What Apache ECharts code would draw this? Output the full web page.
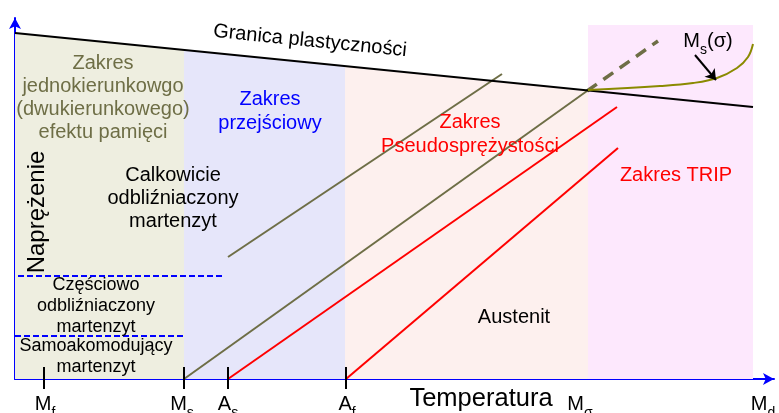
<!DOCTYPE html>
<html>
<head>
<meta charset="utf-8">
<script src="https://cdn.jsdelivr.net/npm/echarts@6/dist/echarts.min.js"></script>
<style>
html, body { margin: 0; padding: 0; background: #fff; }
#chart { width: 779px; height: 413px; }
</style>
</head>
<body>
<div id="chart"></div>
<script>
// schematic units: temperature 0..759, stress 0..361
const tickPos = [29, 169, 213, 331];
const labelPos = [30, 167, 213, 332, 565, 748];
const labelMain = ['M', 'M', 'A', 'A', 'M', 'M'];
const labelSub = ['f', 's', 's', 'f', 'σ', 'd'];

// zones: [x from, x to] and top edge [left, right]
const zoneX = [[0, 169], [169, 330], [330, 573], [573, 738]];
const zoneTop = [[346, 329], [329, 313], [313, 289], [354, 354]];

const yieldLine = [[0, 346], [738, 272]];
const detwinLine = [[213, 122], [487, 305]];
const msLine = [[169, 0], [572, 288]];
const msLineExt = [[572, 288], [643, 338]];
const asLine = [[213, 0], [602, 272]];
const afLine = [[331, 0], [603, 231]];
const msSigma = [[573, 289], [645, 293], [678, 296], [702, 301], [722, 311], [733, 322], [738, 335]];
const msSigmaArrow = [[680, 324], [701, 299]];
const partialLine = [[3, 103], [207, 103]];
const selfAccLine = [[0, 43], [169, 43]];

const notes = [
  [295, 338, 'Granica plastyczności', 'yield'],
  [22, 167, 'Naprężenie', 'yname'],
  [88, 281, 'Zakres\njednokierunkowgo\n(dwukierunkowego)\nefektu pamięci', 'olive'],
  [255, 268, 'Zakres\nprzejściowy', 'blue'],
  [455, 245, 'Zakres\nPseudosprężystości', 'red'],
  [661, 204, 'Zakres TRIP', 'red'],
  [158, 181, 'Calkowicie\nodbliźniaczony\nmartenzyt', 'black'],
  [81, 73, 'Częściowo\nodbliźniaczony\nmartenzyt', 'small'],
  [81, 22, 'Samoakomodujący\nmartenzyt', 'small'],
  [499, 62, 'Austenit', 'black'],
  [693, 338, '{m|M}{s|s}{m|(σ)}', 'msig'],
  [466, -20, 'Temperatura', 'axis']
];

const FONT = "'Liberation Sans', Arial, sans-serif";
const zoneColors = ['#eeeee0', '#e6e6fa', '#fdf0ee', '#fde8fd'];
const OLIVE = '#6e6e46';
const subRich = {
  m: { fontSize: 20, lineHeight: 20, verticalAlign: 'top', fontFamily: FONT, color: '#000' },
  s: { fontSize: 14, lineHeight: 14, verticalAlign: 'top', padding: [12, 0, 0, 0], fontFamily: FONT, color: '#000' }
};
const noteStyle = {
  yield: { color: '#000', size: 20, lh: 22, rotate: -5.7 },
  yname: { color: '#000', size: 24, lh: 26, rotate: 90 },
  olive: { color: OLIVE, size: 20, lh: 23 },
  blue: { color: '#0000ff', size: 20, lh: 24 },
  red: { color: '#ff0000', size: 20, lh: 24 },
  black: { color: '#000', size: 20, lh: 23 },
  small: { color: '#000', size: 18, lh: 21 },
  msig: { color: '#000', size: 20, lh: 20, rich: subRich },
  axis: { color: '#000', size: 25.5, lh: 28 }
};

function seg(data, color, width, type, z) {
  return {
    type: 'line', data: data, symbol: 'none', silent: true, z: z || 3,
    lineStyle: { color: color, width: width, type: type || 'solid' }
  };
}

const chart = echarts.init(document.getElementById('chart'));

chart.setOption({
  animation: false,
  grid: { left: 15, right: 5, top: 18, bottom: 34, containLabel: false, outerBoundsMode: 'none' },
  xAxis: {
    type: 'value', min: 0, max: 759,
    axisLine: { show: true, onZero: false, lineStyle: { color: '#0000ff', width: 2 }, symbol: ['none', 'arrow'], symbolSize: [9, 11] },
    axisTick: { show: false },
    splitLine: { show: false },
    axisLabel: {
      customValues: labelPos,
      margin: 15,
      formatter: function (v) {
        const i = labelPos.indexOf(v);
        return '{m|' + labelMain[i] + '}{s|' + labelSub[i] + '}';
      },
      rich: subRich
    }
  },
  yAxis: {
    type: 'value', min: 0, max: 361,
    axisLine: { show: true, onZero: false, lineStyle: { color: '#0000ff', width: 2 }, symbol: ['none', 'arrow'], symbolSize: [9, 11] },
    axisTick: { show: false },
    axisLabel: { show: false },
    splitLine: { show: false }
  },
  series: [
    {
      type: 'custom', coordinateSystem: 'cartesian2d', silent: true, z: 1,
      data: zoneX.map((r, i) => [r[0], zoneTop[i][0], r[1], zoneTop[i][1]]),
      encode: { x: [0, 2], y: [1, 3] },
      renderItem: function (params, api) {
        const x0 = api.value(0), y0 = api.value(1), x1 = api.value(2), y1 = api.value(3);
        return {
          type: 'polygon',
          shape: { points: [api.coord([x0, 0]), api.coord([x1, 0]), api.coord([x1, y1]), api.coord([x0, y0])] },
          style: { fill: zoneColors[params.dataIndex] }
        };
      }
    },
    seg(partialLine, '#0000ff', 2, [6, 3]),
    seg(selfAccLine, '#0000ff', 2, [6, 3]),
    seg(detwinLine, OLIVE, 2),
    seg(msLine, OLIVE, 2),
    seg(msLineExt, OLIVE, 3.5, [12, 8]),
    seg(asLine, '#ff0000', 2),
    seg(afLine, '#ff0000', 2),
    seg(yieldLine, '#000', 2, 'solid', 4),
    Object.assign(seg(msSigma, '#8a8a00', 2, 'solid', 5), { smooth: 0.4 }),
    {
      type: 'lines', coordinateSystem: 'cartesian2d', silent: true, z: 6,
      data: [{ coords: msSigmaArrow }],
      symbol: ['none', 'arrow'], symbolSize: 10,
      lineStyle: { color: '#000', width: 2, opacity: 1 }
    },
    {
      type: 'custom', coordinateSystem: 'cartesian2d', silent: true, z: 7, clip: false,
      data: tickPos.map(v => [v, 0]),
      encode: { x: 0, y: 1 },
      renderItem: function (params, api) {
        const a = api.coord([api.value(0), 12]);
        const b = api.coord([api.value(0), -10]);
        return { type: 'line', shape: { x1: a[0], y1: a[1], x2: b[0], y2: b[1] }, style: { stroke: '#000', lineWidth: 2 } };
      }
    },
    {
      type: 'custom', coordinateSystem: 'cartesian2d', silent: true, z: 8, clip: false,
      data: notes.map(n => [n[0], n[1]]),
      encode: { x: 0, y: 1 },
      renderItem: function (params, api) {
        const n = notes[params.dataIndex];
        const s = noteStyle[n[3]];
        const p = api.coord([api.value(0), api.value(1)]);
        return {
          type: 'text', x: p[0], y: p[1],
          rotation: (s.rotate || 0) * Math.PI / 180,
          style: {
            text: n[2], fill: s.color, fontSize: s.size, fontFamily: FONT,
            lineHeight: s.lh, align: 'center', verticalAlign: 'middle', rich: s.rich
          }
        };
      }
    }
  ]
});
</script>
</body>
</html>
